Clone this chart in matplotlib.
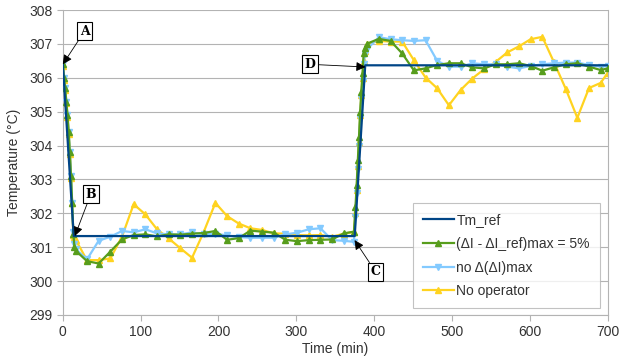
import numpy as np
import matplotlib.pyplot as plt

# time axis shared by the three simulated series (min)
t_drop = [0, 1.5, 3, 4.5, 6, 7.5, 9, 10.5, 12, 13.5, 15, 16.5]
t_mid = [31, 46, 61, 76, 91, 106, 121, 136, 151, 166, 181, 196, 211, 226,
         241, 256, 271, 286, 301, 316, 331, 346, 361, 374]
t_rise = [376, 377.5, 379, 380.5, 382, 383.5, 385, 386.5, 388, 391]
t_post = [406, 421, 436, 451, 466, 481, 496, 511, 526, 541, 556, 571, 586,
          601, 616, 631, 646, 661, 676, 691, 700]
time = t_drop + t_mid + t_rise + t_post

# reference temperature
t_ref = [0, 14, 375, 388.5, 700]
Tm_ref = [306.4, 301.33, 301.33, 306.37, 306.37]

# (dI - dI_ref)max = 5%
T_5pct = ([306.4, 306.0, 305.7, 305.3, 304.9, 304.4, 303.8, 303.1, 302.3, 301.4, 301.0, 300.9]
          + [300.59, 300.52, 300.87, 301.23, 301.36, 301.38, 301.32, 301.38, 301.37, 301.40,
             301.42, 301.48, 301.22, 301.27, 301.49, 301.46, 301.43, 301.22, 301.18, 301.21,
             301.22, 301.23, 301.41, 301.46]
          + [302.2, 302.84, 303.57, 304.26, 305.0, 305.59, 306.13, 306.72, 306.87, 307.01]
          + [307.15, 307.09, 306.72, 306.22, 306.28, 306.38, 306.43, 306.43, 306.31, 306.28,
             306.40, 306.40, 306.43, 306.35, 306.21, 306.31, 306.40, 306.43, 306.33, 306.23,
             306.28])

# no d(dI)max
T_nomax = ([306.4, 306.0, 305.7, 305.3, 304.9, 304.4, 303.8, 303.1, 302.3, 301.45, 301.1, 300.95]
           + [300.64, 301.19, 301.31, 301.48, 301.44, 301.53, 301.41, 301.38, 301.38, 301.44,
              301.38, 301.40, 301.35, 301.30, 301.28, 301.28, 301.28, 301.38, 301.43, 301.53,
              301.56, 301.21, 301.19, 301.16]
           + [301.9, 302.6, 303.3, 304.0, 304.8, 305.4, 305.9, 306.4, 306.7, 306.85]
           + [307.2, 307.14, 307.11, 307.09, 307.11, 306.50, 306.33, 306.33, 306.43, 306.40,
              306.40, 306.33, 306.28, 306.35, 306.40, 306.43, 306.45, 306.45, 306.38, 306.33,
              306.35])

# no operator
T_noop = ([306.35, 305.95, 305.65, 305.25, 304.85, 304.35, 303.75, 303.05, 302.3, 301.35, 301.29, 301.22]
          + [300.62, 300.62, 300.67, 301.31, 302.27, 301.97, 301.53, 301.26, 300.97, 300.69,
             301.45, 302.31, 301.92, 301.70, 301.56, 301.51, 301.41, 301.40, 301.36, 301.35,
             301.36, 301.31, 301.40, 301.45]
          + [302.0, 302.7, 303.4, 304.1, 304.9, 305.5, 306.0, 306.5, 306.8, 307.0]
          + [307.09, 307.07, 307.07, 306.52, 306.01, 305.69, 305.19, 305.64, 305.98, 306.25,
             306.47, 306.75, 306.93, 307.14, 307.21, 306.46, 305.68, 304.82, 305.70, 305.85,
             306.15])

# labelled points: text, box position, arrow tip
labels = ['A', 'B', 'C', 'D']
label_xy = [(28, 307.38), (36, 302.57), (402, 300.27), (317, 306.40)]
tip_xy = [(0, 306.40), (15.4, 301.33), (374.8, 301.21), (388.9, 306.32)]

plt.rcParams['font.family'] = ['Liberation Sans', 'DejaVu Sans']
fig = plt.figure(figsize=(6.22, 3.6), dpi=100)
ax = fig.add_axes([0.101, 0.125, 0.876, 0.847])

ax.plot(time, T_noop, color='#ffd320', lw=1.6, marker='^', ms=4.5,
        label='No operator', zorder=2)
ax.plot(time, T_nomax, color='#83caff', lw=1.6, marker='v', ms=4.5,
        label='no Δ(ΔI)max', zorder=3)
ax.plot(time, T_5pct, color='#579d1c', lw=1.6, marker='^', ms=4.5,
        label='(ΔI - ΔI_ref)max = 5%', zorder=4)
ax.plot(t_ref, Tm_ref, color='#004586', lw=1.6, label='Tm_ref', zorder=5)

for lab, xy, tip in zip(labels, label_xy, tip_xy):
    ax.annotate(lab, xy=tip, xytext=xy, ha='center', va='center',
                fontsize=9, fontweight='bold', family='DejaVu Serif',
                bbox=dict(boxstyle='square,pad=0.2', fc='white', ec='black', lw=0.8),
                arrowprops=dict(arrowstyle='-|>', color='black', lw=0.6,
                                mutation_scale=14, shrinkA=0, shrinkB=0),
                zorder=10)

ax.set_xlim(0, 700)
ax.set_ylim(299, 308)
ax.set_xticks(np.arange(0, 701, 100))
ax.set_yticks(np.arange(299, 309, 1))
ax.grid(axis='y', color='#b3b3b3', lw=0.8)
ax.set_axisbelow(True)
ax.spines['top'].set_visible(False)
for side in ['left', 'bottom', 'right']:
    ax.spines[side].set_color('#b3b3b3')
ax.tick_params(colors='#b3b3b3', labelcolor='#333333', labelsize=10, length=4)
ax.set_xlabel('Time (min)', fontsize=10, color='#333333', labelpad=2)
ax.set_ylabel('Temperature (°C)', fontsize=10, color='#333333', labelpad=6)

h, l = ax.get_legend_handles_labels()
order = [3, 2, 1, 0]
leg = ax.legend([h[i] for i in order], [l[i] for i in order], loc='lower right',
                bbox_to_anchor=(0.985, 0.023), borderaxespad=0, fontsize=10,
                frameon=True, fancybox=False, edgecolor='#b3b3b3', handlelength=2.2,
                handletextpad=0.2, labelspacing=0.7, borderpad=0.7)
leg.get_frame().set_linewidth(0.8)
for txt in leg.get_texts():
    txt.set_color('#333333')

fig.savefig('out.png', dpi=100)
